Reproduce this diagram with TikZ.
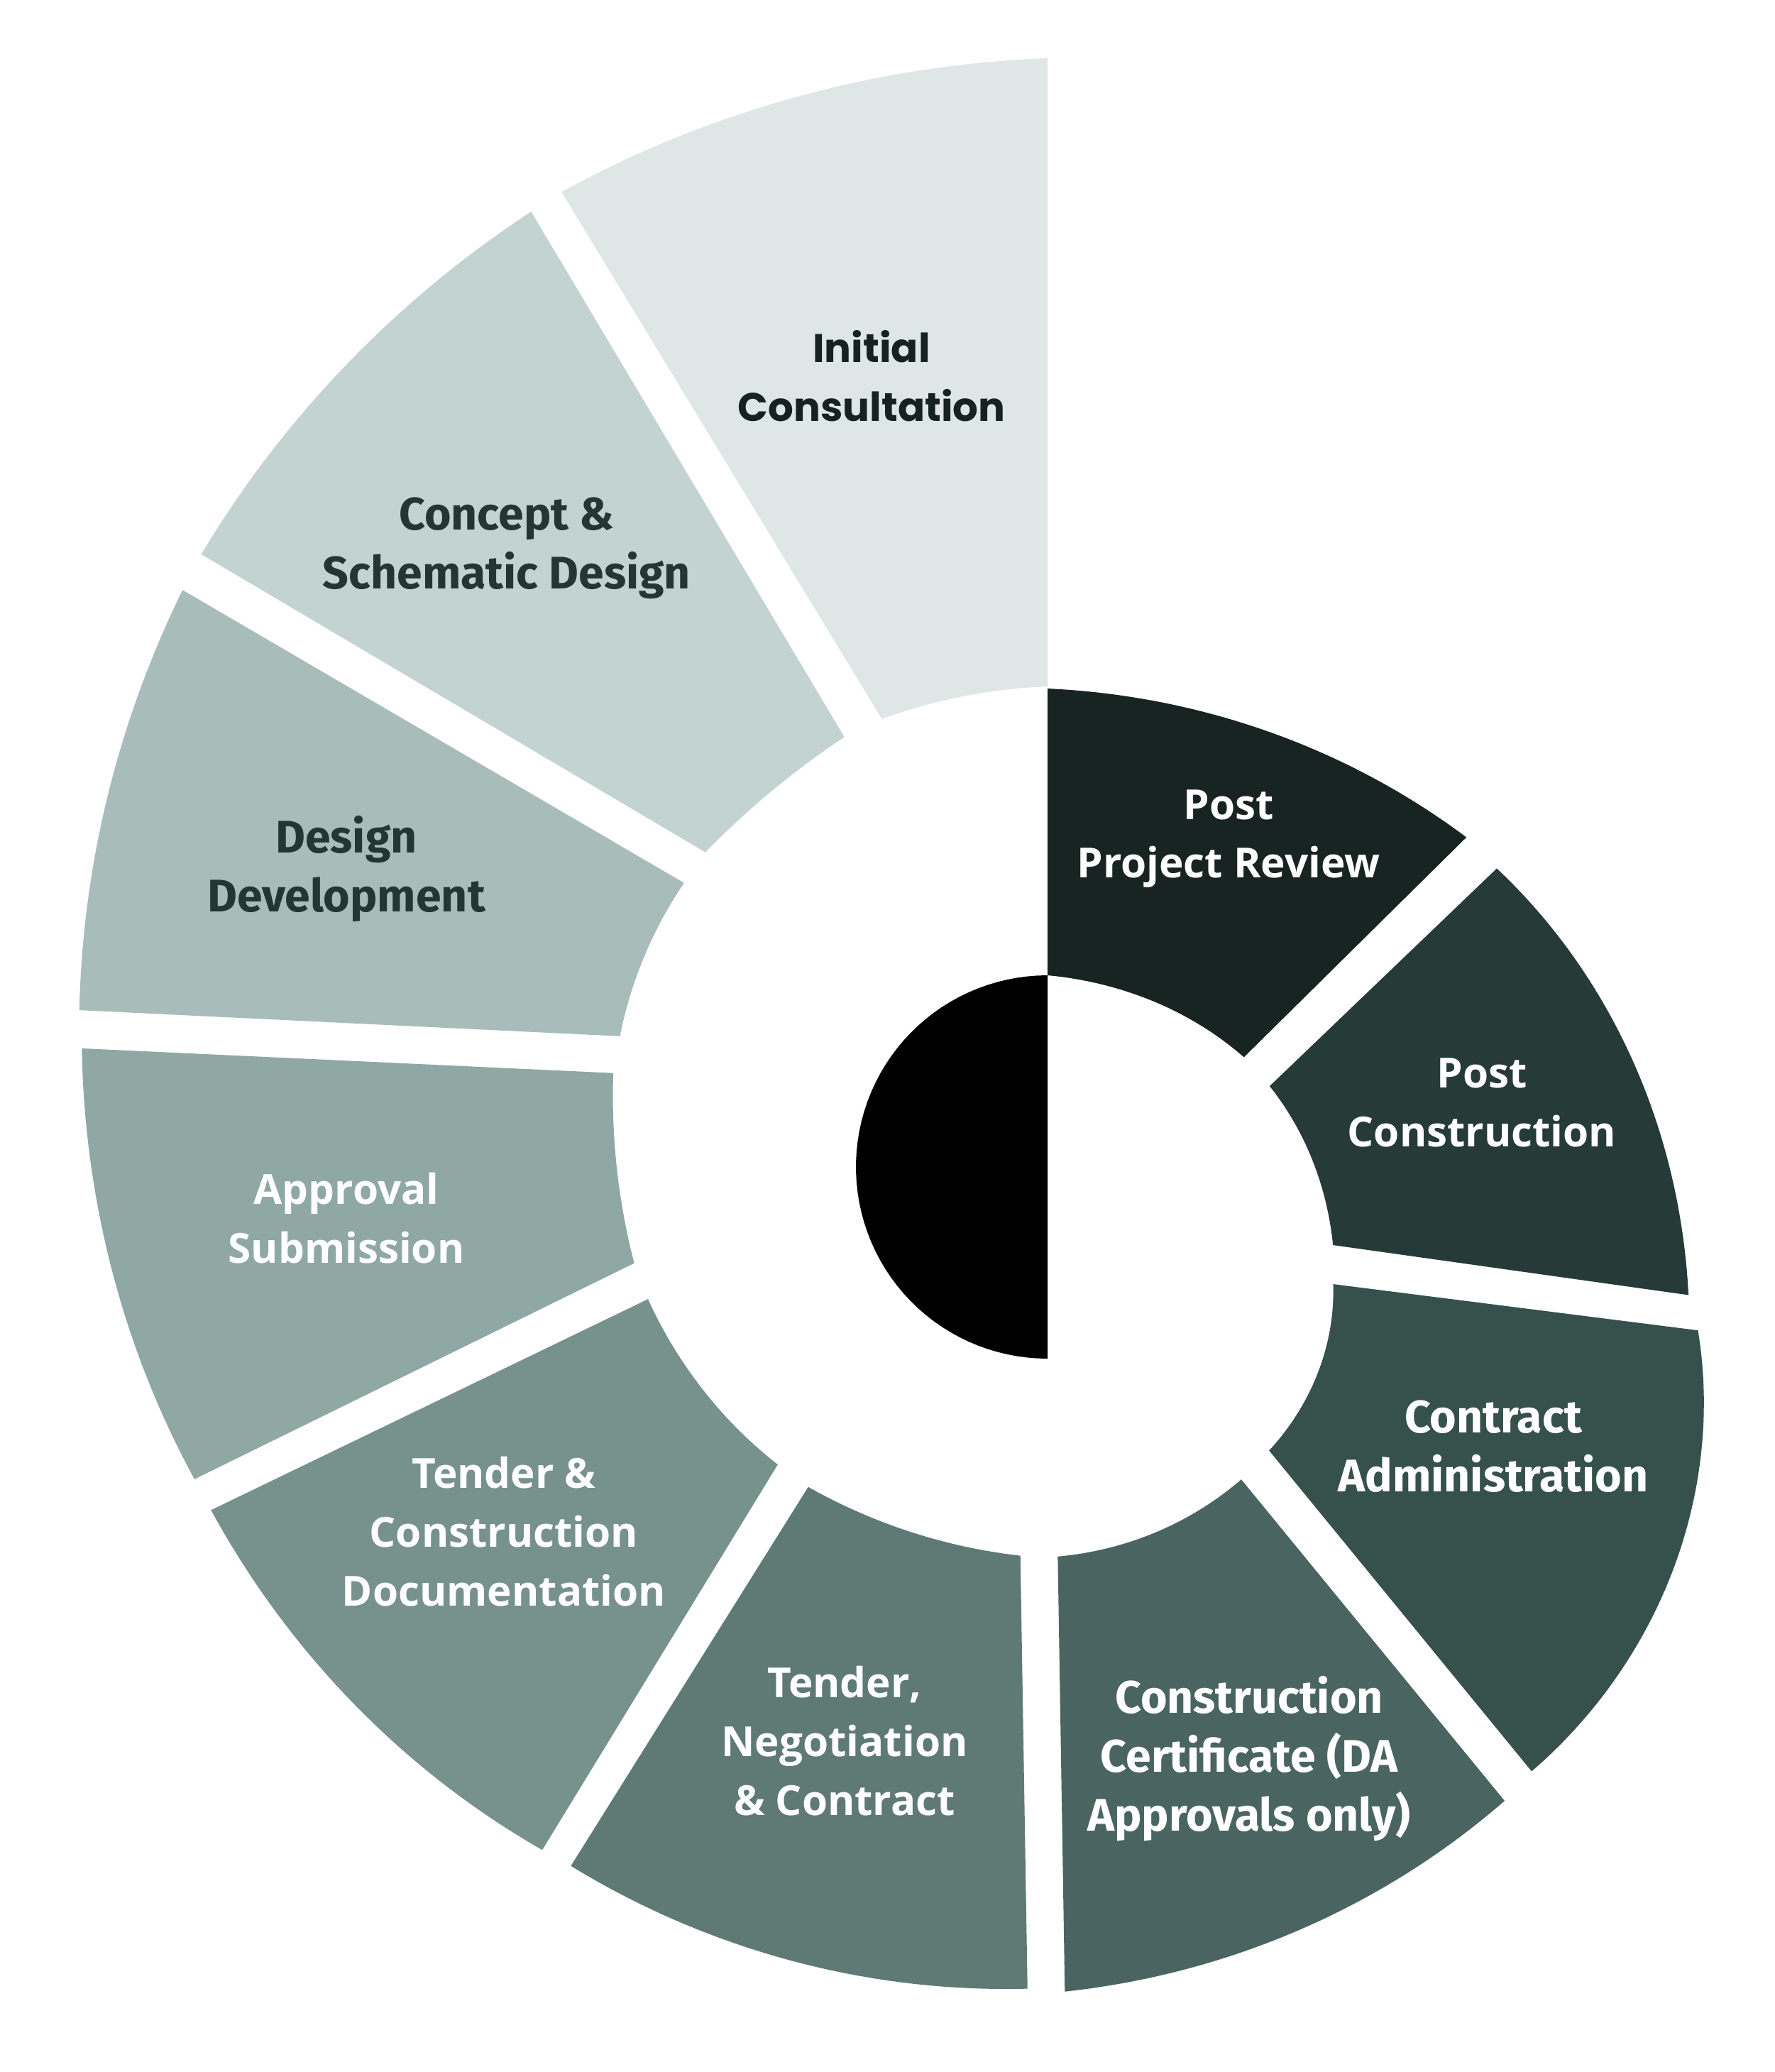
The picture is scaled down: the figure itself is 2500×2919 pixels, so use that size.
\documentclass[tikz,border=0pt]{standalone}
\usepackage{fontspec}
\newfontfamily\popfont{Poppins}
\newfontfamily\firafont{Fira Sans}
\newfontfamily\opensfont{Open Sans}
\definecolor{cIC}{HTML}{DFE7E6}
\definecolor{cCSD}{HTML}{C2D3D1}
\definecolor{cDD}{HTML}{A8BDBA}
\definecolor{cAS}{HTML}{8FA8A3}
\definecolor{cTCD}{HTML}{77918C}
\definecolor{cTN}{HTML}{5F7A75}
\definecolor{cCC}{HTML}{4A6561}
\definecolor{cCA}{HTML}{36514C}
\definecolor{cPC}{HTML}{263A37}
\definecolor{cPPR}{HTML}{182421}
\definecolor{txtdark}{HTML}{162220}
\definecolor{txtmid}{HTML}{243634}
% quadratic (in angle) radius through three polar points (tA,rA),(tM,rM),(tB,rB)
\newcommand{\qrad}[6]{(#2*((\t-(#3))/((#1)-(#3)))*((\t-(#5))/((#1)-(#5)))+#4*((\t-(#1))/((#3)-(#1)))*((\t-(#5))/((#3)-(#5)))+#6*((\t-(#1))/((#5)-(#1)))*((\t-(#3))/((#5)-(#3))))}
% store outer edge: tA rA tM rM tB rB
\newcommand{\outeredge}[6]{\def\oa{#1}\def\ora{#2}\def\om{#3}\def\orm{#4}\def\ob{#5}\def\orb{#6}}
% sector: colour, inner edge given from B back to A: tB rB tM rM tA rA
\newcommand{\spsector}[7]{%
  \fill[#1] plot[domain=\oa:\ob,samples=60,variable=\t]
    ({1476+\qrad{\oa}{\ora}{\om}{\orm}{\ob}{\orb}*sin(\t)},{1644-\qrad{\oa}{\ora}{\om}{\orm}{\ob}{\orb}*cos(\t)})
    -- plot[domain=#2:#6,samples=60,variable=\t]
    ({1476+\qrad{#2}{#3}{#4}{#5}{#6}{#7}*sin(\t)},{1644-\qrad{#2}{#3}{#4}{#5}{#6}{#7}*cos(\t)})
    -- cycle;}
\begin{document}
\begin{tikzpicture}[x=0.01cm,y=-0.01cm,
  lbl/.style={align=center,anchor=base,inner sep=0pt},
  labpop/.style={lbl,font=\popfont\bfseries\fontsize{16pt}{23.47pt}\selectfont,text=txtdark},
  labfira/.style={lbl,font=\firafont\bfseries\fontsize{18.3pt}{23.47pt}\selectfont},
  labopen/.style={lbl,font=\opensfont\bfseries\fontsize{16.6pt}{23.47pt}\selectfont,text=white}]
\fill[white] (0,0) rectangle (2500,2919);
\useasboundingbox (0,0) rectangle (2500,2919);
% sectors
\outeredge{0}{674}{29.2}{691.6}{51.8}{751}
\spsector{cPPR}{60.8}{317}{31.4}{276}{0}{270}
\outeredge{56.4}{760}{78.85}{835}{101.3}{921}
\spsector{cPC}{105.3}{417}{88.8}{374}{70.0}{333}
\outeredge{104.1}{945}{122.7}{1048}{141.3}{1091}
\spsector{cCA}{142.0}{507}{127.4}{479}{112.3}{435}
\outeredge{144.2}{1101}{161.5}{1131.5}{178.8}{1162}
\spsector{cCC}{178.5}{549}{163.7}{537}{148.2}{518}
\outeredge{181.4}{1158}{197.85}{1175}{214.3}{1192}
\spsector{cTN}{216.8}{563}{200.2}{549}{184.0}{549}
\outeredge{216.5}{1197}{232.1}{1235.5}{247.7}{1274}
\spsector{cTCD}{251.7}{593}{236.9}{578}{222.2}{566}
\outeredge{249.9}{1280}{263.45}{1325.5}{277.0}{1371}
\spsector{cAS}{282.2}{626}{269.9}{607}{256.9}{598}
\outeredge{279.2}{1382}{291.45}{1423.5}{303.7}{1465}
\spsector{cDD}{308.0}{650}{298.1}{641.5}{287.0}{630}
\outeredge{305.9}{1472}{318.75}{1501}{331.6}{1530}
\spsector{cCSD}{334.7}{670}{323.7}{657}{312.6}{655}
\outeredge{333.5}{1535}{346.75}{1548.5}{360}{1562}
\spsector{cIC}{360}{677}{349.8}{673.6}{339.7}{673}
% black half disk
\fill[black] plot[domain=0:180,samples=60,variable=\t]({1476-270*sin(\t)},{1644-270*cos(\t)}) -- cycle;
% labels (anchor = baseline of last line)
\node[labpop] (ic) at (1228,593.3) {Initial\\Consultation};
\node[labfira,text=txtmid] (csd) at (714,829) {Concept \&\\Schematic Design};
\node[labfira,text=txtmid] (dd) at (488,1284.5) {Design\\Development};
\node[labopen] (as) at (488,1779.5) {Approval\\Submission};
\node[labopen] (tcd) at (710,2262) {Tender \&\\Construction\\Documentation};
\node[labopen] (tn) at (1190,2557) {Tender,\\Negotiation\\\& Contract};
\node[labfira,text=white] (cc) at (1760,2579) {Construction\\Certificate (DA\\Approvals only)};
\node[labfira,text=white] (ca) at (2104,2101) {Contract\\Administration};
\node[labopen] (pc) at (2088,1615) {Post\\Construction};
\node[labopen] (ppr) at (1731,1236.7) {Post\\Project Review};
\end{tikzpicture}
\end{document}
